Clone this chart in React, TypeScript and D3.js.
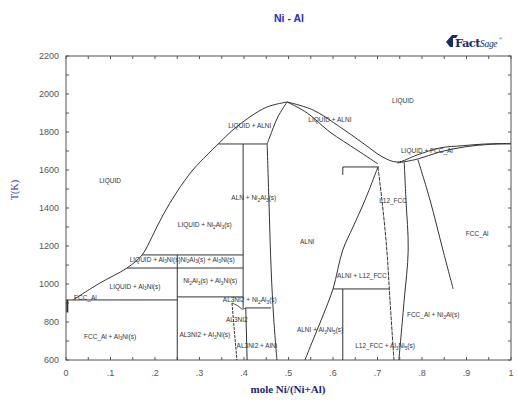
import React from 'react';
import * as d3 from 'd3';

// Ni-Al phase diagram, points are [mole Ni/(Ni+Al), T(K)]
const xTicks = d3.range(0, 1.0001, 0.05);
const xTickLabels = ['0', '.1', '.2', '.3', '.4', '.5', '.6', '.7', '.8', '.9', '1'];
const yTicks = d3.range(600, 2201, 100);
const yTickLabels = ['600', '800', '1000', '1200', '1400', '1600', '1800', '2000', '2200'];

const liquidusAl = [[0.016, 916], [0.076, 1005], [0.137, 1084], [0.171, 1153], [0.193, 1247], [0.218, 1363], [0.249, 1484], [0.285, 1600], [0.317, 1679], [0.342, 1737], [0.375, 1811], [0.413, 1879], [0.452, 1932], [0.497, 1958]];
const liquidusNi = [[0.497, 1958], [0.555, 1916], [0.616, 1826], [0.667, 1742], [0.712, 1668], [0.744, 1642], [0.789, 1679], [0.840, 1716], [0.892, 1728], [0.942, 1737], [1, 1740]];
const fccSolidus = [[0.744, 1637], [0.791, 1658], [0.840, 1695], [0.897, 1722], [0.953, 1735], [1, 1737]];
const alniSolidusAl = [[0.497, 1958], [0.476, 1879], [0.458, 1774], [0.452, 1737]];
const alniSolvusAl = [[0.452, 1737], [0.456, 1442], [0.461, 1074], [0.467, 811], [0.474, 600]];
const alniSolidusNi = [[0.497, 1958], [0.542, 1900], [0.593, 1800], [0.654, 1705], [0.701, 1632]];
const alniSolvusNi = [[0.701, 1616], [0.672, 1442], [0.645, 1300], [0.622, 1179], [0.600, 974], [0.578, 837], [0.555, 705], [0.537, 600]];
const peritecticNi = [[0.622, 1574], [0.622, 1616], [0.703, 1616]];
const l12Left = [[0.701, 1616], [0.710, 1442], [0.721, 1179], [0.728, 916], [0.737, 600]];
const l12Right = [[0.760, 1642], [0.764, 1442], [0.769, 1179], [0.760, 916], [0.748, 600]];
const fccSolvus = [[0.791, 1653], [0.818, 1442], [0.847, 1179], [0.870, 974]];
const al3ni5Top = [[0.600, 974], [0.726, 974]];
const al3ni5Line = [[0.622, 974], [0.622, 600]];
const eutecticAl = [[0, 916], [0.25, 916]];
const al3niLow = [[0.25, 932], [0.398, 932]];
const al3niLine = [[0.25, 1153], [0.25, 600]];
const peritectic1153 = [[0.171, 1153], [0.398, 1153]];
const peritectic1084 = [[0.137, 1084], [0.398, 1084]];
const ni2al3Line = [[0.398, 1737], [0.398, 874]];
const peritectic1737 = [[0.342, 1737], [0.452, 1737]];
const al3ni2Left = [[0.373, 900], [0.384, 600]];
const al3ni2Top = [[0.373, 900], [0.387, 884], [0.396, 868], [0.404, 874]];
const al3ni2Right = [[0.404, 874], [0.407, 600]];
const line874 = [[0.404, 874], [0.461, 874]];
const fccAlEdge = [[0.003, 916], [0.003, 850]];

const phaseLines = [
  { pts: liquidusAl, curve: true }, { pts: liquidusNi, curve: true }, { pts: fccSolidus, curve: true },
  { pts: alniSolidusAl, curve: true }, { pts: alniSolvusAl, curve: true }, { pts: alniSolidusNi, curve: true },
  { pts: alniSolvusNi, curve: true }, { pts: peritecticNi }, { pts: l12Left, curve: true, dash: '4,1' },
  { pts: l12Right, curve: true }, { pts: fccSolvus, curve: true }, { pts: al3ni5Top }, { pts: al3ni5Line },
  { pts: eutecticAl }, { pts: al3niLow }, { pts: al3niLine }, { pts: peritectic1153 }, { pts: peritectic1084 },
  { pts: ni2al3Line }, { pts: peritectic1737 }, { pts: al3ni2Left, dash: '3,1' }, { pts: al3ni2Top, curve: true },
  { pts: al3ni2Right }, { pts: line874 }, { pts: fccAlEdge, width: 2 },
];

// region labels: text, x, T  ({n} = subscript)
const regionLabels = [
  ['LIQUID', 0.099, 1532], ['LIQUID + ALNI', 0.413, 1821], ['LIQUID + ALNI', 0.593, 1853],
  ['LIQUID', 0.757, 1953], ['LIQUID + FCC_Al', 0.811, 1689], ['ALN + Ni{2}Al{3}(s)', 0.422, 1442],
  ['LIQUID + Ni{2}Al{3}(s)', 0.312, 1300], ['ALNI', 0.542, 1211], ['L12_FCC', 0.735, 1426],
  ['FCC_Al', 0.924, 1253], ['LIQUID + Al{3}Ni(s)Ni{2}Al{3}(s) + Al{3}Ni(s)', 0.261, 1116],
  ['LIQUID + Al{3}Ni(s)', 0.155, 974], ['Ni{2}Al{3}(s) + Al{3}Ni(s)', 0.324, 1005],
  ['AL3NI2 + Ni{2}Al{3}(s)', 0.413, 905], ['AL3NI2', 0.384, 800], ['AL3NI2 + Al{3}Ni(s)', 0.312, 721],
  ['AL3NI2 + AlNi', 0.429, 663], ['FCC_Al + Al{3}Ni(s)', 0.099, 711], ['ALNI + L12_FCC', 0.665, 1032],
  ['ALNI + Al{3}Ni{5}(s)', 0.571, 747], ['L12_FCC + Al{3}Ni{5}(s)', 0.717, 663],
  ['FCC_Al + Ni{3}Al(s)', 0.825, 826], ['FCC_Al', 0.018, 916],
];

const W = 517;
const H = 401;
const left = 66, right = 511, top = 56, bottom = 360;

function labelParts(s: string) {
  const parts = s.split(/\{(\d)\}/);
  const out: any[] = [];
  let shifted = false;
  parts.forEach((p, i) => {
    if (p === '') return;
    if (i % 2 === 1) {
      out.push(<tspan key={i} dy={1.5} fontSize={4.8}>{p}</tspan>);
      shifted = true;
    } else {
      out.push(<tspan key={i} dy={shifted ? -1.5 : 0}>{p}</tspan>);
      shifted = false;
    }
  });
  return out;
}

export default function App() {
  const x = d3.scaleLinear().domain([0, 1]).range([left, right]);
  const y = d3.scaleLinear().domain([600, 2200]).range([bottom, top]);
  const curved = d3.line<number[]>().x(d => x(d[0])).y(d => y(d[1])).curve(d3.curveCatmullRom.alpha(0.5));
  const straight = d3.line<number[]>().x(d => x(d[0])).y(d => y(d[1]));

  return (
    <svg width={W} height={H} style={{ position: 'absolute', left: 0, top: 0, background: '#fff' }}
      fontFamily="'Liberation Sans', Arial, sans-serif">
      <text x={289} y={22} textAnchor="middle" fontSize={10.5} fontWeight="bold" fill="#2a2ac4">Ni - Al</text>

      {/* FactSage logo */}
      <g fill="#1b2a6b">
        <path d="M446,42 L452,35 L458,35 L456,38 L453,38 L453,47 L450,47 Z" />
        <text x={455} y={47} fontSize={11.5} fontWeight="bold" fontFamily="'DejaVu Serif', serif" letterSpacing={-0.6}>Fact</text>
        <text x={480} y={47} fontSize={9.5} fontStyle="italic" fontFamily="'Liberation Serif', serif" letterSpacing={-0.3}>Sage</text>
        <text x={499} y={40} fontSize={4}>®</text>
      </g>

      {/* frame */}
      <rect x={left} y={top} width={right - left} height={bottom - top} fill="none" stroke="#555" strokeWidth={1} />
      {xTicks.map((t, i) => (
        <g key={'xt' + i} stroke="#555">
          <line x1={x(t)} x2={x(t)} y1={bottom} y2={bottom - 3} />
          <line x1={x(t)} x2={x(t)} y1={top} y2={top + 3} />
        </g>
      ))}
      {yTicks.map((t, i) => (
        <g key={'yt' + i} stroke="#555">
          <line x1={left} x2={left + 3} y1={y(t)} y2={y(t)} />
          <line x1={right} x2={right - 3} y1={y(t)} y2={y(t)} />
        </g>
      ))}
      {xTickLabels.map((l, i) => (
        <text key={'xl' + i} x={x(i / 10)} y={376} textAnchor="middle" fontSize={9} fill="#555">{l}</text>
      ))}
      {yTickLabels.map((l, i) => (
        <text key={'yl' + i} x={59} y={y(600 + i * 200)} dy="0.35em" textAnchor="end" fontSize={9} fill="#555">{l}</text>
      ))}

      {/* phase boundaries */}
      {phaseLines.map((l, i) => (
        <path key={'pl' + i} d={(l.curve ? curved : straight)(l.pts) || ''} fill="none" stroke="#333"
          strokeWidth={l.width || 1} strokeDasharray={l.dash || undefined} />
      ))}

      {regionLabels.map((l, i) => (
        <text key={'rl' + i} x={x(l[1] as number)} y={y(l[2] as number)} dy="0.35em"
          textAnchor={i === regionLabels.length - 1 ? 'start' : 'middle'} fontSize={6.5} fill="#333">
          {labelParts(l[0] as string)}
        </text>
      ))}

      <text transform="translate(18,190) rotate(-90)" textAnchor="middle" fontSize={10} fill="#3333bb"
        fontFamily="'Liberation Serif', serif">T(K)</text>
      <text x={288} y={393} textAnchor="middle" fontSize={11} fontWeight="bold" fill="#1f1f70"
        fontFamily="'Liberation Serif', serif">mole Ni/(Ni+Al)</text>
    </svg>
  );
}
